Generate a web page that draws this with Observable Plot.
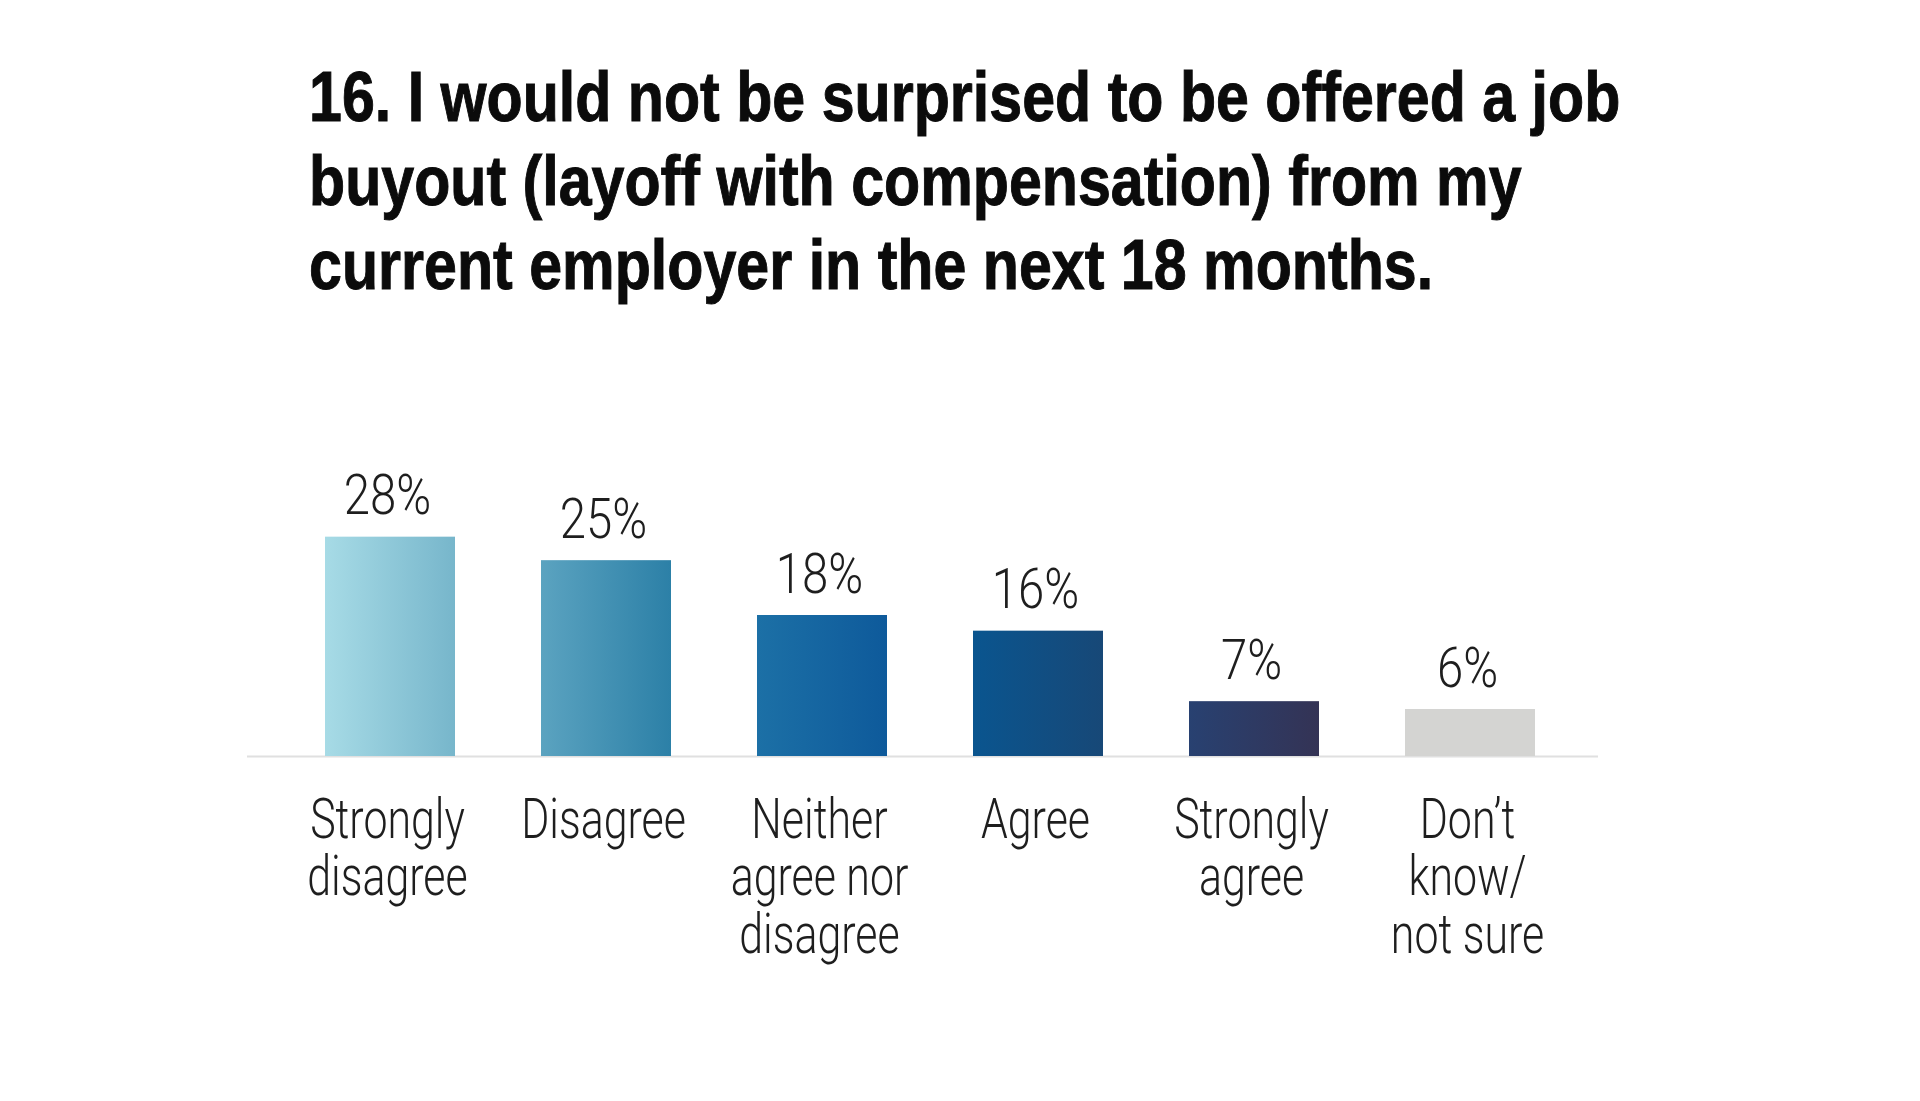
<!DOCTYPE html>
<html>
<head>
<meta charset="utf-8">
<script src="https://cdn.jsdelivr.net/npm/d3@7"></script>
<script src="https://cdn.jsdelivr.net/npm/@observablehq/plot@0.6"></script>
<style>
  html, body { margin: 0; padding: 0; background: #ffffff; }
  body { width: 1920px; height: 1101px; position: relative; overflow: hidden; }
  #title {
    position: absolute; left: 309px; top: 55px;
    font-family: "Liberation Sans", Arial, sans-serif; font-weight: 700;
    font-size: 70px; line-height: 84px; color: #0b0b0b;
    -webkit-text-stroke: 1px #0b0b0b;
    transform: scaleX(0.845); transform-origin: 0 0; white-space: nowrap;
  }
  #chart { position: absolute; left: 0; top: 420px; }
</style>
</head>
<body>
<div id="title"></div>
<div id="chart"></div>
<script>
// ---- data ----
const titleLines = [
  "16. I would not be surprised to be offered a job",
  "buyout (layoff with compensation) from my",
  "current employer in the next 18 months."
];
const categories = [
  "Strongly\ndisagree",
  "Disagree",
  "Neither\nagree nor\ndisagree",
  "Agree",
  "Strongly\nagree",
  "Don\u2019t\nknow/\nnot sure"
];
const values = [28, 25, 18, 16, 7, 6];
const gradStart = ["#a7dbe6", "#5ba3c0", "#1c70a6", "#0a558f", "#284171", "#d4d4d2"];
const gradEnd   = ["#77b6cb", "#2c80a7", "#0e5a9b", "#174877", "#343355", "#d4d4d2"];

document.getElementById("title").innerHTML = titleLines.join("<br>");

const rows = categories.map((c, i) => ({category: c, value: values[i], fill: `url(#grad-${i})`}));

const labelFont = "Roboto, 'Liberation Sans', sans-serif";
const plot = Plot.plot({
  width: 1920,
  height: 660,
  marginLeft: 247,
  marginRight: 322,
  marginTop: 101,
  marginBottom: 324,
  style: {background: "transparent", fontFamily: labelFont},
  x: {domain: categories, paddingInner: 0.4, paddingOuter: 0.32, align: 0.555, axis: null},
  y: {domain: [0, 30], axis: null},
  color: {type: "identity"},
  marks: [
    Plot.ruleY([0], {stroke: "#e0e0e0", strokeWidth: 2}),
    Plot.barY(rows, {x: "category", y: "value", fill: "fill"}),
    Plot.text(rows, {
      x: "category", y: "value", text: d => d.value + "%",
      dx: -3, dy: -23, lineAnchor: "bottom", fontSize: 55, fontWeight: 300, fill: "#1e1e1e",
      className: "value-label"
    }),
    Plot.text(rows, {
      x: "category", frameAnchor: "bottom", text: "category",
      dx: -3, lineAnchor: "top", dy: 40, fontSize: 55, lineHeight: 1.05, fontWeight: 300, fill: "#1e1e1e",
      className: "cat-label"
    })
  ]
});

// gradient definitions from the colour arrays
const defs = d3.select(plot).insert("defs", ":first-child");
gradStart.forEach((c, i) => {
  const g = defs.append("linearGradient").attr("id", `grad-${i}`)
    .attr("x1", "0").attr("y1", "0").attr("x2", "1").attr("y2", "0");
  g.append("stop").attr("offset", "0").attr("stop-color", c);
  g.append("stop").attr("offset", "1").attr("stop-color", gradEnd[i]);
});

// condensed look: narrow each label horizontally around its anchor
const narrow = (sel, k) => plot.querySelectorAll(sel).forEach(t => {
  t.setAttribute("transform", (t.getAttribute("transform") || "") + ` scale(${k},1)`);
});
narrow(".value-label text", 0.86);
narrow(".cat-label text", 0.78);

document.getElementById("chart").appendChild(plot);
</script>
</body>
</html>
